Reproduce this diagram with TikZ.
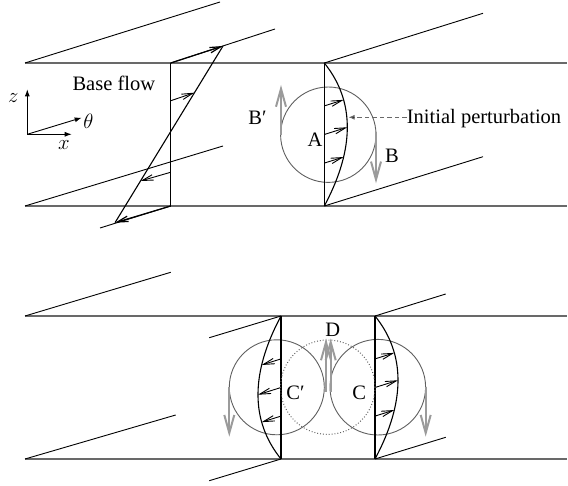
\documentclass[tikz,border=0pt]{standalone}
\usepackage{fontspec}
\setmainfont{Liberation Serif}
\usepackage{xcolor}
\definecolor{wallgray}{RGB}{105, 105, 105}
\definecolor{ringgray}{RGB}{95, 95, 95}
\definecolor{motiongray}{RGB}{155, 155, 155}
\usepackage{tikz}
\usetikzlibrary{arrows.meta, calc}

\tikzset{
    wall/.style={draw=wallgray, line width=1.4pt},
    guide/.style={draw=black, line width=0.9pt},
    profile/.style={draw=black, line width=1.1pt},
    vel/.style={-{Straight Barb[length=11pt,width=5.5pt]}, line width=0.9pt},
    ring/.style={draw=ringgray, line width=0.9pt},
    motion/.style={-{Straight Barb[length=18pt,width=10pt]}, draw=motiongray, line width=2pt},
    lbl/.style={font=\fontsize{20.5}{24}\selectfont, inner sep=0pt, anchor=base},
}

\begin{document}
\begin{tikzpicture}[x=1pt, y=-1pt, >={Latex[length=7pt,width=5pt]}]
    \useasboundingbox (0,0) rectangle (568,486);

    % upper channel
    \draw[wall] (25,63) -- (567,63);
    \draw[wall] (25,206) -- (567,206);
    \draw[guide] (25,63) -- (220,2);
    \draw[guide] (25,206) -- (223,146);

    % base flow profile
    \coordinate (bfT) at (170.7,63);
    \coordinate (bfB) at (170.7,206);
    \coordinate (bfTip) at (223,46);
    \coordinate (bfBot) at (115,222.7);
    \coordinate (bfTend) at (275,29);
    \coordinate (bfBend) at (100,228);
    \draw[guide] (bfT) -- (bfTend);
    \draw[guide] (bfB) -- (bfBend);
    \draw[profile] (bfT) -- (bfB);
    \draw[profile] (bfTip) -- (bfBot);
    \draw[vel, line width=1.2pt] (bfT) -- (bfTip);
    \draw[vel, line width=1.2pt] (bfB) -- (bfBot);
    \foreach \s in {0.264,0.764}
        \draw[vel] ($(bfT)!\s!(bfB)$) -- ($(bfTip)!\s!(bfBot)$);
    \node[lbl] (base) at (113.8,90.7) {Base flow};

    % axes
    \coordinate (orig) at (27.3,134.3);
    \coordinate (zend) at (27.3,89.3);
    \coordinate (xend) at (71.7,134.3);
    \coordinate (tend) at (81.7,117.7);
    \draw[->, line width=0.9pt] (orig) -- (zend);
    \draw[->, line width=0.9pt] (orig) -- (xend);
    \draw[->, line width=0.9pt] (orig) -- (tend);
    \node[lbl] (zlab) at (13.3,103) {$z$};
    \node[lbl] (xlab) at (63.8,150) {$x$};
    \node[lbl] (tlab) at (88.3,128.7) {$\theta$};

    % initial perturbation
    \coordinate (pT) at (324.3,63);
    \coordinate (pB) at (324.3,206);
    \draw[guide] (pT) -- (483,13.3);
    \draw[guide] (pB) -- (483,156.7);
    \draw[ring] (328.3,134.7) circle[radius=47.7pt];
    \draw[profile] (pT) -- (pB);
    \draw[profile] plot[domain=0:1, samples=40, smooth]
        ({324.3+92*\x*(1-\x)}, {63+143*\x-28.9*\x*(1-\x)});
    \foreach \s in {0.3,0.5,0.7} {
        \pgfmathsetmacro\u{92*\s*(1-\s)}
        \draw[vel] (324.3,{63+143*\s}) -- ++(\u,{-0.314*\u});
    }
    \draw[motion] (281,134.7) -- (281,85);
    \draw[motion] (376,131.7) -- (376,183.3);
    \node[lbl] (bprime) at (257.5,125) {B′};
    \node[lbl] (alab) at (315,146.7) {A};
    \node[lbl] (blab) at (392,162.7) {B};
    \node[lbl, anchor=base west] (pert) at (406.7,123.3) {Initial perturbation};
    \coordinate (pertpt) at (348.5,117.3);
    \draw[draw=wallgray, line width=1pt, dash pattern=on 4.5pt off 3pt,
          -{Latex[length=6pt,width=5pt,fill=black]}] (pert.west |- pertpt) -- (pertpt);

    % lower channel
    \draw[wall] (25,316) -- (567,316);
    \draw[wall] (25,459) -- (567,459);
    \draw[guide] (25,316) -- (170.7,272.3);
    \draw[guide] (25,459) -- (175.7,415);

    % C' profile
    \coordinate (cpT) at (281,316);
    \coordinate (cpB) at (281,459);
    \draw[guide] (cpT) -- (209.3,337.7);
    \draw[guide] (cpB) -- (209.3,480.7);
    \draw[ring] (276.8,387.3) circle[radius=47.5pt];
    \draw[profile] (cpT) -- (cpB);
    \draw[profile] plot[domain=0:1, samples=40, smooth]
        ({281-92*\x*(1-\x)}, {316+143*\x+28.9*\x*(1-\x)});
    \foreach \s in {0.3,0.5,0.7} {
        \pgfmathsetmacro\u{92*\s*(1-\s)}
        \draw[vel] (281,{316+143*\s}) -- ++(-\u,{0.314*\u});
    }

    % C profile
    \coordinate (cT) at (375,316);
    \coordinate (cB) at (375,459);
    \draw[guide] (cT) -- (445.7,294);
    \draw[guide] (cB) -- (445.7,437.3);
    \draw[ring] (377.8,387.2) circle[radius=47.8pt];
    \draw[profile] (cT) -- (cB);
    \draw[profile] plot[domain=0:1, samples=40, smooth]
        ({375+92*\x*(1-\x)}, {316+143*\x-28.9*\x*(1-\x)});
    \foreach \s in {0.3,0.5,0.7} {
        \pgfmathsetmacro\u{92*\s*(1-\s)}
        \draw[vel] (375,{316+143*\s}) -- ++(\u,{-0.314*\u});
    }

    % merged region D
    \draw[ring, dotted, line width=1pt] (327.8,387.2) circle[radius=47.2pt];
    \draw[motion] (229.3,386.7) -- (229.3,436.7);
    \draw[motion] (425.7,387) -- (425.7,436.7);
    \draw[motion] (326,392) -- (326,338.5);
    \draw[motion] (330.7,392) -- (330.7,338.5);
    \node[lbl] (cplab) at (295.5,399.3) {C′};
    \node[lbl] (clab) at (359.3,399.3) {C};
    \node[lbl] (dlab) at (332.8,336.5) {D};
\end{tikzpicture}
\end{document}
